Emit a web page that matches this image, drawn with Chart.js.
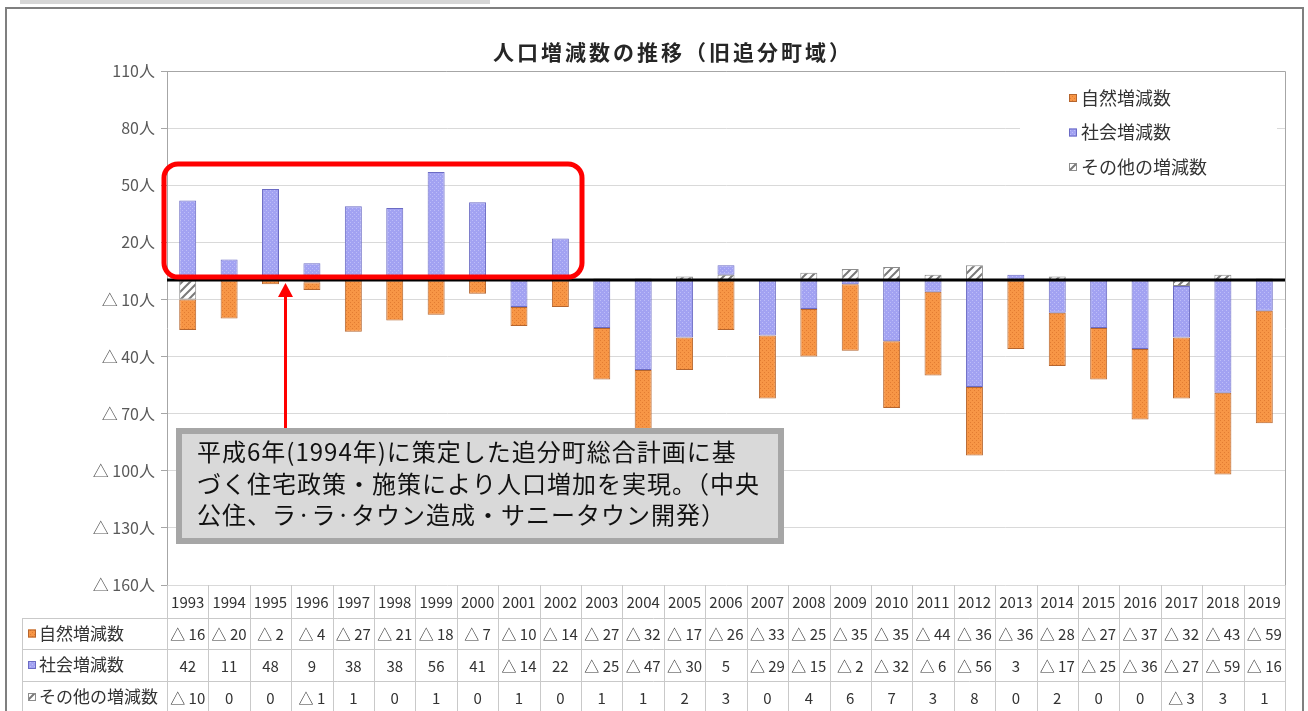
<!DOCTYPE html>
<html lang="ja">
<head>
<meta charset="utf-8">
<title>人口増減数の推移（旧追分町域）</title>
<script src="https://cdn.jsdelivr.net/npm/chart.js@4.4.1/dist/chart.umd.min.js"></script>
<style>
    html, body { margin: 0; padding: 0; background: #fff; }
    #wrap { position: relative; width: 1308px; height: 711px; overflow: hidden; }
</style>
</head>
<body>
<div id="wrap"><canvas id="myChart" width="1308" height="711"></canvas></div>
<script>

    /**
     * Data
     */

    var years = ['1993', '1994', '1995', '1996', '1997', '1998', '1999', '2000', '2001', '2002', '2003', '2004', '2005', '2006',
        '2007', '2008', '2009', '2010', '2011', '2012', '2013', '2014', '2015', '2016', '2017', '2018', '2019'];
    var natural = [-16, -20, -2, -4, -27, -21, -18, -7, -10, -14, -27, -32, -17, -26,
        -33, -25, -35, -35, -44, -36, -36, -28, -27, -37, -32, -43, -59];
    var social = [42, 11, 48, 9, 38, 38, 56, 41, -14, 22, -25, -47, -30, 5,
        -29, -15, -2, -32, -6, -56, 3, -17, -25, -36, -27, -59, -16];
    var other = [-10, 0, 0, -1, 1, 0, 1, 0, 1, 0, 1, 1, 2, 3,
        0, 4, 6, 7, 3, 8, 0, 2, 0, 0, -3, 3, 1];
    var yMin = -160, yMax = 110, yStep = 30;
    var seriesNames = ['自然増減数', '社会増減数', 'その他の増減数'];
    var chartTitle = '人口増減数の推移（旧追分町域）';
    var noteLines = [
        '平成6年(1994年)に策定した追分町総合計画に基',
        'づく住宅政策・施策により人口増加を実現。（中央',
        '公住、ラ·ラ·タウン造成・サニータウン開発）'
    ];

    var NARROW = "'Liberation Sans Narrow', 'Noto Sans CJK JP', sans-serif";
    var CJK = "'Noto Sans CJK JP', sans-serif";

    // △ is used for minus in Japanese tables
    function fmt(v) {
        return v < 0 ? '△ ' + (-v) : String(v);
    }

    /**
     * Fill patterns (Excel style)
     */

    function dotPattern(base, dot) {
        var c = document.createElement('canvas');
        c.width = 4; c.height = 4;
        var g = c.getContext('2d');
        g.fillStyle = base; g.fillRect(0, 0, 4, 4);
        g.fillStyle = dot; g.fillRect(0, 0, 1, 1); g.fillRect(2, 2, 1, 1);
        return g.createPattern(c, 'repeat');
    }

    function hatchPattern() {
        var c = document.createElement('canvas');
        c.width = 8; c.height = 8;
        var g = c.getContext('2d');
        g.fillStyle = '#ffffff'; g.fillRect(0, 0, 8, 8);
        g.strokeStyle = '#7a7a7a'; g.lineWidth = 2;
        g.beginPath();
        g.moveTo(-2, 10); g.lineTo(10, -2);
        g.moveTo(-6, 6); g.lineTo(6, -6);
        g.moveTo(2, 14); g.lineTo(14, 2);
        g.stroke();
        return g.createPattern(c, 'repeat');
    }

    var fillNatural = dotPattern('#f79646', '#e27c32');
    var fillSocial = dotPattern('#a2a2f2', '#bdbdf8');
    var fillOther = hatchPattern();
    var borderNatural = '#b5652e';
    var borderSocial = '#6b6bc4';
    var borderOther = '#8c8c8c';

    /**
     * Extra drawing: frame, title, zero line, legend, data table, note
     */

    var extras = {
        id: 'extras',
        beforeDraw: function (chart) {
            var ctx = chart.ctx;
            ctx.save();
            ctx.fillStyle = '#ffffff';
            ctx.fillRect(0, 0, chart.width, chart.height);
            ctx.fillStyle = '#d6d6d6';
            ctx.fillRect(20, 0, 470, 4);
            ctx.strokeStyle = '#7f7f7f';
            ctx.lineWidth = 2;
            ctx.strokeRect(6, 8, 1297, 720);
            ctx.restore();
        },
        afterDatasetsDraw: function (chart) {
            var ctx = chart.ctx, a = chart.chartArea, y = chart.scales.y;
            ctx.save();
            // plot border top / right
            ctx.strokeStyle = '#a6a6a6';
            ctx.lineWidth = 1;
            ctx.beginPath();
            ctx.moveTo(a.left, a.top + 0.5); ctx.lineTo(a.right + 0.5, a.top + 0.5);
            ctx.lineTo(a.right + 0.5, a.bottom);
            ctx.stroke();
            // zero line
            var y0 = Math.round(y.getPixelForValue(0));
            ctx.strokeStyle = '#000000';
            ctx.lineWidth = 3;
            ctx.beginPath();
            ctx.moveTo(a.left, y0); ctx.lineTo(a.right, y0);
            ctx.stroke();
            ctx.restore();
        },
        afterDraw: function (chart) {
            var ctx = chart.ctx, a = chart.chartArea, x = chart.scales.x;
            var w = (a.right - a.left) / years.length;
            var i, j;
            ctx.save();

            // title
            ctx.fillStyle = '#262626';
            ctx.font = 'bold 21px ' + CJK;
            ctx.letterSpacing = '3px';
            ctx.textAlign = 'left';
            ctx.textBaseline = 'middle';
            ctx.fillText(chartTitle, 493, 52);
            ctx.letterSpacing = '0px';

            // legend
            ctx.fillStyle = '#ffffff';
            ctx.fillRect(1020, 78, 257, 100);
            var legFill = [fillNatural, fillSocial, fillOther];
            var legBorder = [borderNatural, borderSocial, borderOther];
            ctx.font = '18px ' + CJK;
            for (i = 0; i < 3; i++) {
                var ly = 98 + i * 34.5;
                ctx.fillStyle = legFill[i];
                ctx.fillRect(1069, ly - 4, 8, 8);
                ctx.strokeStyle = legBorder[i];
                ctx.lineWidth = 1;
                ctx.strokeRect(1069.5, ly - 3.5, 7, 7);
                ctx.fillStyle = '#333333';
                ctx.fillText(seriesNames[i], 1081, ly);
            }

            // data table
            var rows = [a.bottom, 618, 649, 681, 713];
            var labelLeft = 22;
            ctx.strokeStyle = '#c9c9c9';
            ctx.lineWidth = 1;
            ctx.beginPath();
            for (j = 1; j < rows.length - 1; j++) {
                ctx.moveTo(labelLeft, rows[j] + 0.5); ctx.lineTo(a.right, rows[j] + 0.5);
            }
            ctx.moveTo(labelLeft + 0.5, rows[1]); ctx.lineTo(labelLeft + 0.5, rows[4]);
            for (i = 0; i <= years.length; i++) {
                var bx = Math.round(a.left + i * w) + 0.5;
                ctx.moveTo(bx, a.bottom); ctx.lineTo(bx, rows[4]);
            }
            ctx.stroke();

            ctx.textAlign = 'center';
            ctx.fillStyle = '#333333';
            ctx.font = '15px ' + NARROW;
            var tableRows = [natural, social, other];
            for (i = 0; i < years.length; i++) {
                var cx = x.getPixelForValue(i);
                ctx.fillText(years[i], cx, (rows[0] + rows[1]) / 2 + 1);
                for (j = 0; j < 3; j++) {
                    ctx.fillText(fmt(tableRows[j][i]), cx, (rows[j + 1] + rows[j + 2]) / 2 + 1);
                }
            }
            ctx.textAlign = 'left';
            ctx.font = '17px ' + CJK;
            for (j = 0; j < 3; j++) {
                var ry = (rows[j + 1] + rows[j + 2]) / 2;
                ctx.fillStyle = legFill[j];
                ctx.fillRect(28, ry - 4, 8, 8);
                ctx.strokeStyle = legBorder[j];
                ctx.strokeRect(28.5, ry - 3.5, 7, 7);
                ctx.fillStyle = '#333333';
                ctx.fillText(seriesNames[j], 39, ry);
            }

            // highlight frame and arrow
            ctx.strokeStyle = '#ff0000';
            ctx.lineWidth = 5;
            ctx.beginPath();
            ctx.roundRect(164, 164, 418, 113, 14);
            ctx.stroke();
            ctx.lineWidth = 3;
            ctx.beginPath();
            ctx.moveTo(285.5, 296); ctx.lineTo(285.5, 430);
            ctx.stroke();
            ctx.fillStyle = '#ff0000';
            ctx.beginPath();
            ctx.moveTo(285.5, 283); ctx.lineTo(278, 297); ctx.lineTo(293, 297);
            ctx.closePath();
            ctx.fill();

            // note box
            ctx.fillStyle = '#a6a6a6';
            ctx.fillRect(176, 428, 608, 116);
            ctx.fillStyle = '#d9d9d9';
            ctx.fillRect(182, 434, 596, 104);
            ctx.fillStyle = '#111111';
            ctx.font = '24px ' + CJK;
            ctx.letterSpacing = '1px';
            for (j = 0; j < noteLines.length; j++) {
                ctx.fillText(noteLines[j], 197, 452 + j * 31.5);
            }
            ctx.restore();
        }
    };

    /**
     * Chart.js
     */

    var ctx = document.getElementById('myChart').getContext('2d');
    var chart = new Chart(ctx, {
        type: 'bar',
        data: {
            labels: years,
            // stacking order: other nearest the zero line, then social, then natural
            datasets: [{
                label: seriesNames[2],
                data: other,
                backgroundColor: fillOther,
                borderColor: borderOther,
                borderWidth: 1,
                borderSkipped: false
            }, {
                label: seriesNames[1],
                data: social,
                backgroundColor: fillSocial,
                borderColor: borderSocial,
                borderWidth: 1,
                borderSkipped: false
            }, {
                label: seriesNames[0],
                data: natural,
                backgroundColor: fillNatural,
                borderColor: borderNatural,
                borderWidth: 1,
                borderSkipped: false
            }]
        },
        options: {
            responsive: false,
            animation: false,
            devicePixelRatio: 1,
            layout: { padding: { left: 0, right: 23, top: 71, bottom: 126 } },
            datasets: { bar: { categoryPercentage: 1, barPercentage: 0.41 } },
            plugins: {
                legend: { display: false },
                title: { display: false },
                tooltip: { enabled: false }
            },
            scales: {
                x: { stacked: true, display: false },
                y: {
                    stacked: true,
                    min: yMin,
                    max: yMax,
                    afterFit: function (s) { s.width = 167; },
                    ticks: {
                        stepSize: yStep,
                        padding: 6,
                        color: '#595959',
                        font: { family: NARROW, size: 16 },
                        callback: function (v) { return fmt(v) + '人'; }
                    },
                    grid: { color: '#d9d9d9', tickLength: 6, tickColor: '#a6a6a6' },
                    border: { color: '#a6a6a6' }
                }
            }
        },
        plugins: [extras]
    });

</script>
</body>
</html>
